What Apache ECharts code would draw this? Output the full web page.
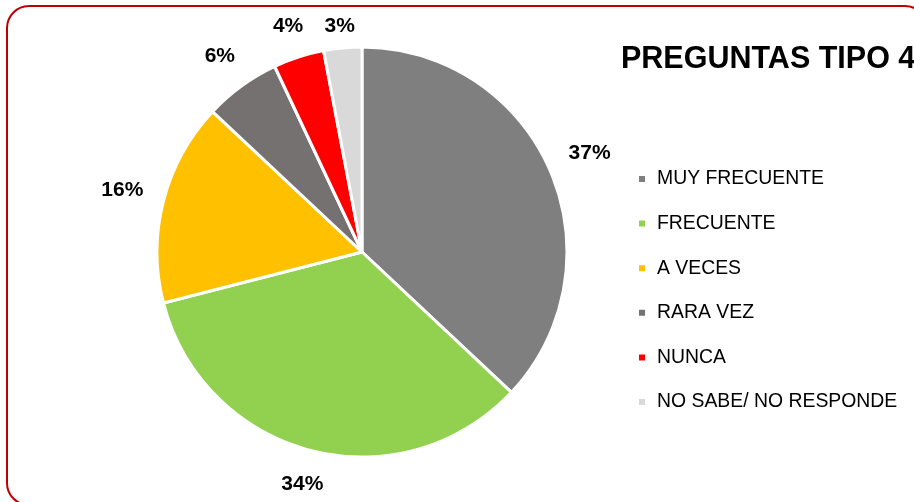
<!DOCTYPE html>
<html>
<head>
<meta charset="utf-8">
<script src="https://cdn.jsdelivr.net/npm/echarts@6/dist/echarts.min.js"></script>
<style>
  html, body { margin: 0; padding: 0; background: #fff; }
  #chart { width: 914px; height: 502px; }
</style>
</head>
<body>
<div id="chart"></div>
<script>
// categorías y porcentajes
const categorias = ['MUY FRECUENTE', 'FRECUENTE', 'A VECES', 'RARA VEZ', 'NUNCA', 'NO SABE/ NO RESPONDE'];
const valores = [37, 34, 16, 6, 4, 3];
const colores = ['#7f7f7f', '#92d050', '#ffc000', '#767171', '#ff0000', '#d9d9d9'];

const fuente = 'Liberation Sans';
const centro = [362, 252];
const radio = 205;
const separacion = 19.5;   // hueco entre el borde del pastel y la etiqueta
const topeSuperior = 15.5; // las etiquetas no suben más que esto

const total = valores.reduce((a, b) => a + b, 0);
const acumulado = valores.map((v, i) => valores.slice(0, i).reduce((a, b) => a + b, 0));
const datos = categorias.map((n, i) => ({ name: n, value: valores[i] }));

// etiqueta fuera del borde, como en Excel (extremo externo)
function colocarEtiqueta(params) {
  const i = params.dataIndex;
  const ang = (acumulado[i] + valores[i] / 2) / total * Math.PI * 2;
  const sx = Math.sin(ang), sy = -Math.cos(ang);
  const w = params.labelRect.width, h = params.labelRect.height;
  const d = radio + separacion + Math.abs(sx) * w / 2 + Math.abs(sy) * h / 2;
  const x = centro[0] + sx * d;
  const y = Math.max(centro[1] + sy * d, topeSuperior + h / 2);
  return { x: x, y: y, align: 'center', verticalAlign: 'middle' };
}

const chart = echarts.init(document.getElementById('chart'));
chart.setOption({
  animation: false,
  color: colores,
  title: {
    text: 'PREGUNTAS TIPO 4',
    left: 616,
    top: 39,
    textStyle: { fontFamily: fuente, fontSize: 30.5, fontWeight: 'bold', color: '#000' }
  },
  legend: {
    data: categorias,
    orient: 'vertical',
    left: 632,
    top: 164,
    icon: 'rect',
    itemWidth: 8,
    itemHeight: 8,
    itemGap: 24.6,
    textStyle: { fontFamily: fuente, fontSize: 19.4, lineHeight: 20, color: '#000', padding: [0, 0, 0, 6] }
  },
  graphic: [{
    type: 'rect',
    shape: { x: 7, y: 6, width: 920, height: 499, r: 22 },
    style: { fill: 'none', stroke: '#c00000', lineWidth: 2 },
    silent: true
  }],
  series: [{
    type: 'pie',
    center: centro,
    radius: [0, radio],
    startAngle: 90,
    clockwise: true,
    avoidLabelOverlap: false,
    data: datos,
    itemStyle: { borderColor: '#fff', borderWidth: 3 },
    label: {
      show: true,
      position: 'inside',
      formatter: '{c}%',
      fontFamily: fuente,
      fontSize: 21,
      fontWeight: 'bold',
      color: '#000'
    },
    labelLine: { show: false },
    labelLayout: colocarEtiqueta,
    emphasis: { scale: false }
  }]
});
</script>
</body>
</html>
